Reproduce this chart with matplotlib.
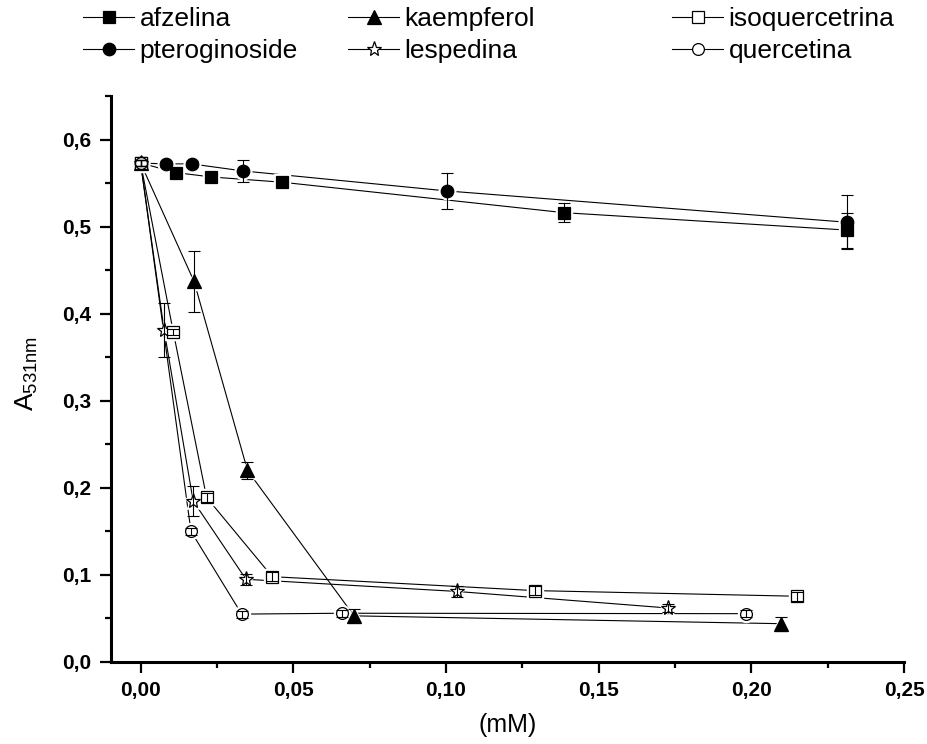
import matplotlib
matplotlib.use("Agg")
import matplotlib.pyplot as plt
from matplotlib.ticker import MultipleLocator, FuncFormatter
from matplotlib.lines import Line2D

plt.rcParams['font.family'] = ['Liberation Sans', 'DejaVu Sans']

# ---- data ----
afz_x = [0.0, 0.0117, 0.0232, 0.0463, 0.1387, 0.2314]
afz_y = [0.573, 0.562, 0.557, 0.551, 0.516, 0.496]
afz_e = [0.003, 0.003, 0.003, 0.003, 0.011, 0.020]

pte_x = [0.0, 0.0083, 0.0167, 0.0334, 0.1002, 0.2314]
pte_y = [0.573, 0.572, 0.572, 0.564, 0.541, 0.505]
pte_e = [0.003, 0.003, 0.003, 0.0125, 0.0205, 0.031]

kae_x = [0.0, 0.0175, 0.0350, 0.0699, 0.2096]
kae_y = [0.573, 0.437, 0.220, 0.053, 0.044]
kae_e = [0.003, 0.0345, 0.010, 0.008, 0.008]

les_x = [0.0, 0.0077, 0.0172, 0.0345, 0.1037, 0.1728]
les_y = [0.573, 0.381, 0.185, 0.095, 0.081, 0.062]
les_e = [0.003, 0.031, 0.017, 0.006, 0.006, 0.005]

iso_x = [0.0, 0.0107, 0.0216, 0.0431, 0.1291, 0.2151]
iso_y = [0.573, 0.379, 0.189, 0.098, 0.082, 0.0755]
iso_e = [0.003, 0.003, 0.005, 0.005, 0.005, 0.005]

que_x = [0.0, 0.0165, 0.0331, 0.0661, 0.1984]
que_y = [0.573, 0.150, 0.055, 0.056, 0.0555]
que_e = [0.003, 0.004, 0.004, 0.004, 0.004]

series = [
    ("afzelina",       afz_x, afz_y, afz_e, 's', 'black', 8.5),
    ("pteroginoside",  pte_x, pte_y, pte_e, 'o', 'black', 9.0),
    ("kaempferol",     kae_x, kae_y, kae_e, '^', 'black', 10.5),
    ("lespedina",      les_x, les_y, les_e, '*', 'white', 11.0),
    ("isoquercetrina", iso_x, iso_y, iso_e, 's', 'white', 8.0),
    ("quercetina",     que_x, que_y, que_e, 'o', 'white', 8.5),
]

W, H = 927, 744
fig = plt.figure(figsize=(W / 100, H / 100), dpi=100)
ax = fig.add_axes([111 / W, 1 - 662 / H, (904 - 111) / W, (662 - 96) / H])

handles = {}
for name, xs, ys, es, mk, fc, ms in series:
    ax.plot(xs, ys, '-', color='black', lw=0.8, zorder=2)
    # white halo so lines stop short of the markers
    ax.plot(xs, ys, ls='none', marker=mk, ms=ms + 3, mfc='white', mec='white', zorder=3)
    ax.plot(xs, ys, ls='none', marker=mk, ms=ms, mfc=fc, mec='black', mew=0.9, zorder=4)
    ax.errorbar(xs, ys, yerr=es, fmt='none', ecolor='black', elinewidth=0.8,
                capsize=4.3, capthick=0.8, zorder=5)
    handles[name] = (mk, fc, ms)

ax.set_xlim(-0.0097, 0.25)
ax.set_ylim(0.0, 0.65)
ax.xaxis.set_major_locator(MultipleLocator(0.05))
ax.xaxis.set_minor_locator(MultipleLocator(0.025))
ax.yaxis.set_major_locator(MultipleLocator(0.1))
ax.yaxis.set_minor_locator(MultipleLocator(0.05))
ax.xaxis.set_major_formatter(FuncFormatter(lambda v, p: f"{v:.2f}".replace('.', ',')))
ax.yaxis.set_major_formatter(FuncFormatter(lambda v, p: f"{v:.1f}".replace('.', ',')))

for s in ['top', 'right']:
    ax.spines[s].set_visible(False)
for s in ['left', 'bottom']:
    ax.spines[s].set_linewidth(2.2)
ax.tick_params(which='major', direction='out', length=8, width=1.6, pad=6)
ax.tick_params(which='minor', direction='out', length=4.3, width=1.6)
for lab in ax.get_xticklabels() + ax.get_yticklabels():
    lab.set_fontweight('bold')
    lab.set_fontsize(15)

ax.set_xlabel("(mM)", fontsize=18)
ax.xaxis.set_label_coords(0.5, -0.09)
ax.set_ylabel(r"A$_{\mathregular{531nm}}$", fontsize=19)
ax.yaxis.set_label_coords(-0.09, 0.51)

# ---- legend: three columns of two entries ----
cols = [
    (83 / W, ["afzelina", "pteroginoside"]),
    (348 / W, ["kaempferol", "lespedina"]),
    (672 / W, ["isoquercetrina", "quercetina"]),
]
for x0, names in cols:
    hs = []
    for n in names:
        mk, fc, ms = handles[n]
        hs.append(Line2D([], [], color='black', lw=0.8, marker=mk, ms=ms, mfc=fc, mec='black', mew=0.9))
    fig.legend(hs, names, loc='upper left', bbox_to_anchor=(x0, 1 - 7 / H), frameon=False,
               fontsize=19, handlelength=1.95, handletextpad=0.2, labelspacing=0.32,
               borderpad=0.0, borderaxespad=0.0)

fig.savefig("out.png", dpi=100)
